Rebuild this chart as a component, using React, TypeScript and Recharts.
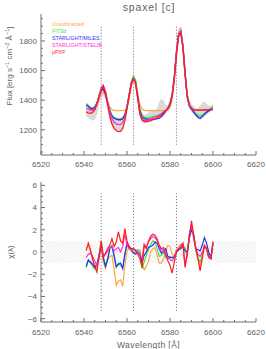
import React from "react";
import { ComposedChart, Line, Area, XAxis, YAxis, ReferenceLine, ReferenceArea } from "recharts";

// wavelength grid [Å]
const wavelength = [
  6541, 6542, 6543, 6544, 6545, 6546, 6547, 6548, 6549, 6550,
  6551, 6552, 6553, 6554, 6555, 6556, 6557, 6558, 6559, 6560,
  6561, 6562, 6563, 6564, 6565, 6566, 6567, 6568, 6569, 6570,
  6571, 6572, 6573, 6574, 6575, 6576, 6577, 6578, 6579, 6580,
  6581, 6582, 6583, 6584, 6585, 6586, 6587, 6588, 6589, 6590,
  6591, 6592, 6593, 6594, 6595, 6596, 6597, 6598, 6599, 6600,
];

// flux, top panel
const unsubtracted = [
  1325, 1328, 1332, 1338, 1350, 1375, 1415, 1448, 1455, 1430,
  1390, 1355, 1336, 1331, 1330, 1330, 1330, 1330, 1332, 1345,
  1410, 1490, 1540, 1520, 1440, 1370, 1340, 1331, 1330, 1330,
  1330, 1330, 1330, 1330, 1330, 1330, 1330, 1331, 1335, 1350,
  1410, 1540, 1725, 1855, 1882, 1780, 1600, 1440, 1370, 1345,
  1335, 1332, 1331, 1331, 1331, 1332, 1333, 1334, 1336, 1338,
];
const fit3d = [
  1375, 1365, 1350, 1345, 1355, 1385, 1430, 1475, 1485, 1450,
  1390, 1335, 1300, 1282, 1276, 1273, 1272, 1280, 1305, 1360,
  1440, 1525, 1560, 1535, 1440, 1340, 1300, 1285, 1280, 1282,
  1285, 1290, 1290, 1292, 1295, 1305, 1315, 1330, 1345, 1380,
  1440, 1560, 1730, 1850, 1870, 1770, 1590, 1430, 1370, 1350,
  1330, 1310, 1298, 1293, 1300, 1310, 1325, 1335, 1345, 1358,
];
const miles = [
  1368, 1358, 1345, 1340, 1350, 1380, 1425, 1465, 1475, 1440,
  1380, 1325, 1292, 1278, 1272, 1268, 1268, 1275, 1300, 1355,
  1435, 1515, 1545, 1520, 1425, 1325, 1285, 1275, 1272, 1272,
  1272, 1272, 1273, 1275, 1278, 1290, 1305, 1325, 1345, 1375,
  1435, 1555, 1725, 1845, 1865, 1760, 1575, 1420, 1360, 1340,
  1320, 1300, 1285, 1278, 1290, 1305, 1318, 1328, 1335, 1342,
];
const stelib = [
  1345, 1342, 1335, 1330, 1340, 1375, 1430, 1485, 1500, 1460,
  1390, 1320, 1275, 1252, 1240, 1235, 1236, 1250, 1285, 1350,
  1435, 1515, 1545, 1515, 1415, 1310, 1270, 1262, 1262, 1265,
  1272, 1280, 1288, 1295, 1302, 1310, 1320, 1332, 1345, 1370,
  1430, 1550, 1720, 1845, 1865, 1765, 1585, 1430, 1365, 1345,
  1335, 1333, 1333, 1333, 1333, 1334, 1335, 1336, 1338, 1340,
];
const ppxf = [
  1320, 1315, 1312, 1318, 1335, 1370, 1420, 1470, 1495, 1455,
  1370, 1290, 1240, 1210, 1195, 1188, 1190, 1210, 1260, 1340,
  1430, 1510, 1545, 1510, 1410, 1305, 1265, 1255, 1255, 1258,
  1262, 1268, 1275, 1283, 1292, 1302, 1315, 1330, 1345, 1370,
  1425, 1540, 1700, 1830, 1855, 1760, 1580, 1430, 1365, 1345,
  1335, 1333, 1333, 1333, 1333, 1334, 1335, 1336, 1338, 1340,
];
const errLow = [
  1290, 1280, 1270, 1262, 1270, 1300, 1360, 1420, 1440, 1400,
  1330, 1270, 1230, 1205, 1195, 1190, 1192, 1210, 1255, 1330,
  1420, 1495, 1525, 1500, 1400, 1300, 1255, 1245, 1245, 1250,
  1255, 1262, 1265, 1270, 1275, 1285, 1300, 1315, 1330, 1350,
  1410, 1520, 1690, 1820, 1845, 1740, 1560, 1410, 1340, 1320,
  1305, 1290, 1275, 1265, 1275, 1290, 1300, 1315, 1325, 1330,
];
const errHigh = [
  1385, 1375, 1360, 1355, 1360, 1390, 1440, 1500, 1515, 1470,
  1400, 1340, 1300, 1290, 1285, 1280, 1282, 1290, 1320, 1380,
  1460, 1540, 1575, 1550, 1450, 1350, 1310, 1300, 1305, 1315,
  1330, 1335, 1330, 1345, 1390, 1410, 1400, 1370, 1365, 1400,
  1460, 1575, 1750, 1880, 1905, 1800, 1620, 1460, 1400, 1375,
  1360, 1345, 1345, 1360, 1385, 1390, 1375, 1360, 1365, 1372,
];

// chi, bottom panel
const chiUnsub = [
  0.3, 0.6, 0.0, -0.8, -1.2, -1.5, -0.5, 0.6, -0.9, -1.5,
  -0.6, -0.4, -0.3, -1.5, -3.0, -2.6, -2.5, -3.1, -1.2, 0.0,
  0.5, 0.3, 0.1, 0.0, 0.1, 0.2, -1.0, -1.6, -1.3, -0.8,
  0.0, 0.3, 0.4, -0.3, -1.0, -1.0, -0.6, 0.0, 0.6, 0.5,
  -0.2, -0.4, 0.2, 0.5, 0.7, 0.6, 0.3, -0.5, 1.6, 2.3,
  1.4, 0.2, -0.6, -1.3, -0.4, 0.6, 0.4, -0.4, -0.6, 1.0,
];
const chiFit3d = [
  -1.4, -0.8, -1.0, -1.3, -1.5, -1.2, -0.3, 1.0, -0.4, -1.2,
  -0.6, 0.4, 0.6, -0.4, -1.4, -1.0, -1.2, -1.4, -0.3, 0.7,
  0.4, 0.1, -0.1, 0.0, 0.2, 0.0, -1.5, -0.9, -0.3, 0.2,
  0.7, 1.0, 0.9, 0.3, -0.4, -0.3, 0.0, -0.5, -0.6, -0.4,
  -0.5, -0.6, 0.0, 0.2, 0.4, 0.6, 0.4, -0.3, 1.5, 2.2,
  1.3, 0.1, -0.5, -0.9, -0.3, 0.4, 0.3, -0.4, -0.6, 0.3,
];
const chiMiles = [
  -1.3, -0.7, -0.9, -1.1, -1.4, -1.1, -0.3, 0.6, -0.6, -1.3,
  -0.7, 0.3, 0.5, -0.3, -1.3, -1.1, -1.0, -1.5, -0.2, 0.8,
  0.5, 0.2, -0.1, -0.2, 0.0, -0.2, -0.9, -0.3, 0.0, 0.4,
  0.5, 0.6, 0.9, 0.8, 0.3, -0.1, 0.1, 0.3, -0.4, -0.5,
  -0.5, -0.4, 0.0, 0.2, 0.3, 0.5, 0.1, 0.0, 1.2, 2.0,
  1.6, 0.3, 0.2, 0.1, 0.6, 1.3, 0.8, 0.0, -0.5, 0.8,
];
const chiStelib = [
  -0.5, -0.2, -0.1, -0.4, -0.8, -1.2, -0.6, 0.4, -0.4, -0.2,
  0.1, 0.4, 0.5, 0.1, 0.3, 0.4, 0.0, 0.5, 1.6, 0.6,
  0.3, 0.2, 0.3, 0.2, 0.0, -0.3, -0.6, 0.7, 0.4, 0.9,
  1.2, 1.4, 1.3, 1.0, 0.5, 0.2, 0.2, -0.3, -0.5, -0.7,
  -0.8, -0.5, 0.1, 0.3, 0.4, 0.7, -1.2, -0.1, 1.4, 2.5,
  1.3, 0.3, -0.2, -0.4, 0.0, 0.5, 0.3, -0.4, -0.6, 0.7,
];
const chiPpxf = [
  0.1, 0.8, 0.2, -0.6, -1.3, -1.8, -0.4, 1.0, -0.5, -0.1,
  0.3, 0.6, 1.2, 0.5, 0.9, 1.8, 1.0, 0.8, 2.1, 1.0,
  0.4, 0.3, 0.3, 0.1, -0.2, -0.6, -1.4, 0.6, 0.3, 1.0,
  1.4, 1.6, 1.5, 1.2, 0.6, 0.3, 0.4, -0.2, -0.8, -1.2,
  -1.9, -0.9, 0.0, 0.3, 0.5, 0.8, -1.4, -0.2, 1.5, 2.8,
  1.5, 0.4, -0.6, -1.7, -0.6, 0.6, 0.3, -0.5, -0.6, 0.9,
];

const xTicks = [
  6520, 6525, 6530, 6535, 6540, 6545, 6550, 6555, 6560, 6565, 6570,
  6575, 6580, 6585, 6590, 6595, 6600, 6605, 6610, 6615, 6620,
];
const fluxTicks = [
  1050, 1100, 1150, 1200, 1250, 1300, 1350, 1400, 1450, 1500,
  1550, 1600, 1650, 1700, 1750, 1800, 1850, 1900, 1950,
];
const chiTicks = [
  -6, -5.5, -5, -4.5, -4, -3.5, -3, -2.5, -2, -1.5, -1, -0.5, 0,
  0.5, 1, 1.5, 2, 2.5, 3, 3.5, 4, 4.5, 5, 5.5, 6,
];
const lineMarks = [6548, 6563, 6583];

const series = [
  { name: "Unsubtracted", flux: "unsub", chi: "cUnsub", color: "#ffa54a" },
  { name: "FIT3d", flux: "fit3d", chi: "cFit3d", color: "#3be63b" },
  { name: "STARLIGHT/MILES", flux: "miles", chi: "cMiles", color: "#2a2aff" },
  { name: "STARLIGHT/STELIB", flux: "stelib", chi: "cStelib", color: "#ff2ed0" },
  { name: "pPXF", flux: "ppxf", chi: "cPpxf", color: "#ff1e1e" },
];

const fluxData = wavelength.map((w, i) => ({
  wl: w,
  err: [errLow[i], errHigh[i]],
  unsub: unsubtracted[i],
  fit3d: fit3d[i],
  miles: miles[i],
  stelib: stelib[i],
  ppxf: ppxf[i],
}));

const chiData = wavelength.map((w, i) => ({
  wl: w,
  cUnsub: chiUnsub[i],
  cFit3d: chiFit3d[i],
  cMiles: chiMiles[i],
  cStelib: chiStelib[i],
  cPpxf: chiPpxf[i],
}));

const FONT = "'Liberation Sans', Arial, sans-serif";
const INK = "#626262";
const AXIS = "#6e6e6e";

const isMajor = (v: number, step: number) => Math.abs(v / step - Math.round(v / step)) < 1e-6;
const fmtNum = (v: number) => (v < 0 ? "\u2212" + Math.abs(v) : String(v));

// inward IDL-style ticks, long on majors, short on minors
function makeTick(side: string, step: number, showLabel: boolean, labelGap = 11.5) {
  return (props: any) => {
    const { x, y, payload } = props;
    const v = payload.value;
    const major = isMajor(v, step);
    const len = major ? 4 : 2;
    let line;
    if (side === "bottom") line = <line x1={x} y1={y} x2={x} y2={y - len} stroke={AXIS} />;
    else if (side === "top") line = <line x1={x} y1={y} x2={x} y2={y + len} stroke={AXIS} />;
    else if (side === "left") line = <line x1={x} y1={y} x2={x + len} y2={y} stroke={AXIS} />;
    else line = <line x1={x} y1={y} x2={x - len} y2={y} stroke={AXIS} />;
    let label = null;
    if (showLabel && major) {
      if (side === "bottom")
        label = (
          <text x={x} y={y + labelGap} textAnchor="middle" fontSize={8} fill={INK} fontFamily={FONT}>
            {fmtNum(v)}
          </text>
        );
      else
        label = (
          <text x={x - 4} y={y + 2.9} textAnchor="end" fontSize={8} fill={INK} fontFamily={FONT}>
            {fmtNum(v)}
          </text>
        );
    }
    return (
      <g>
        {line}
        {label}
      </g>
    );
  };
}

export default function App() {
  return (
    <div style={{ position: "absolute", left: 0, top: 0, width: 266, height: 349, background: "#fff" }}>
      <svg width={0} height={0} style={{ position: "absolute" }}>
        <defs>
          <pattern id="hatch" patternUnits="userSpaceOnUse" width={2.5} height={2.5} patternTransform="rotate(45)">
            <line x1={0} y1={0} x2={0} y2={2.5} stroke="#d2d2d2" strokeWidth={0.8} />
          </pattern>
        </defs>
      </svg>

      <div style={{ position: "absolute", left: 0, top: 0 }}>
        <ComposedChart width={266} height={170} data={fluxData} margin={{ top: 14, right: 10, bottom: 0, left: 0 }}>
          <XAxis
            dataKey="wl"
            type="number"
            domain={[6520, 6620]}
            ticks={xTicks}
            interval={0}
            allowDataOverflow
            height={15}
            tickSize={0}
            tickMargin={0}
            tickLine={false}
            stroke={AXIS}
            tick={makeTick("bottom", 20, true, 11.7)}
          />
          <XAxis
            xAxisId="top"
            orientation="top"
            dataKey="wl"
            type="number"
            domain={[6520, 6620]}
            ticks={xTicks}
            interval={0}
            allowDataOverflow
            height={0}
            tickSize={0}
            tickMargin={0}
            tickLine={false}
            stroke={AXIS}
            tick={makeTick("top", 20, false)}
          />
          <YAxis
            type="number"
            domain={[1030, 1982]}
            ticks={fluxTicks}
            interval={0}
            allowDataOverflow
            width={41}
            tickSize={0}
            tickMargin={0}
            tickLine={false}
            stroke={AXIS}
            tick={makeTick("left", 200, true)}
          />
          <YAxis
            yAxisId="right"
            orientation="right"
            type="number"
            domain={[1030, 1982]}
            ticks={fluxTicks}
            interval={0}
            allowDataOverflow
            width={0}
            tickSize={0}
            tickMargin={0}
            tickLine={false}
            stroke={AXIS}
            tick={makeTick("right", 200, false)}
          />
          <Area dataKey="err" type="linear" stroke="none" fill="#d9d9d9" fillOpacity={1} isAnimationActive={false} />
          {lineMarks.map((m) => (
            <ReferenceLine
              key={m}
              segment={[
                { x: m, y: 1100 },
                { x: m, y: 1905 },
              ]}
              stroke="#6a6a6a"
              strokeDasharray="1 2"
            />
          ))}
          {series.map((s) => (
            <Line
              key={s.flux}
              dataKey={s.flux}
              type="linear"
              stroke={s.color}
              strokeWidth={1.3}
              dot={false}
              isAnimationActive={false}
            />
          ))}
        </ComposedChart>
      </div>

      <div style={{ position: "absolute", left: 0, top: 170 }}>
        <ComposedChart width={266} height={179} data={chiData} margin={{ top: 12, right: 10, bottom: 0, left: 0 }}>
          <XAxis
            dataKey="wl"
            type="number"
            domain={[6520, 6620]}
            ticks={xTicks}
            interval={0}
            allowDataOverflow
            height={27}
            tickSize={0}
            tickMargin={0}
            tickLine={false}
            stroke={AXIS}
            tick={makeTick("bottom", 20, true, 13.2)}
          />
          <XAxis
            xAxisId="top"
            orientation="top"
            dataKey="wl"
            type="number"
            domain={[6520, 6620]}
            ticks={xTicks}
            interval={0}
            allowDataOverflow
            height={0}
            tickSize={0}
            tickMargin={0}
            tickLine={false}
            stroke={AXIS}
            tick={makeTick("top", 20, false)}
          />
          <YAxis
            type="number"
            domain={[-6.3, 6.3]}
            ticks={chiTicks}
            interval={0}
            allowDataOverflow
            width={41}
            tickSize={0}
            tickMargin={0}
            tickLine={false}
            stroke={AXIS}
            tick={makeTick("left", 2, true)}
          />
          <YAxis
            yAxisId="right"
            orientation="right"
            type="number"
            domain={[-6.3, 6.3]}
            ticks={chiTicks}
            interval={0}
            allowDataOverflow
            width={0}
            tickSize={0}
            tickMargin={0}
            tickLine={false}
            stroke={AXIS}
            tick={makeTick("right", 2, false)}
          />
          <ReferenceArea x1={6520} x2={6620} y1={-1} y2={1} fill="url(#hatch)" fillOpacity={1} stroke="none" />
          {lineMarks.map((m) => (
            <ReferenceLine
              key={m}
              segment={[
                { x: m, y: -5.3 },
                { x: m, y: 5.3 },
              ]}
              stroke="#6a6a6a"
              strokeDasharray="1 2"
            />
          ))}
          {series.map((s) => (
            <Line
              key={s.chi}
              dataKey={s.chi}
              type="linear"
              stroke={s.color}
              strokeWidth={1.2}
              dot={false}
              isAnimationActive={false}
            />
          ))}
        </ComposedChart>
      </div>

      <svg width={266} height={349} style={{ position: "absolute", left: 0, top: 0, pointerEvents: "none" }} fontFamily={FONT}>
        <text x={149} y={10.5} textAnchor="middle" fontSize={10.5} fill={INK} letterSpacing={0.8}>
          spaxel [c]
        </text>
        {series.map((s, i) => (
          <text key={s.name} x={52} y={26 + i * 7.1} fontSize={5.4} fill={s.color}>
            {s.name}
          </text>
        ))}
        <text transform="translate(11.5,66) rotate(-90)" textAnchor="middle" fontSize={8} fill={INK}>
          Flux [erg s<tspan dy={-3} fontSize={5.5}>{"\u22121"}</tspan>
          <tspan dy={3}> cm</tspan>
          <tspan dy={-3} fontSize={5.5}>{"\u22122"}</tspan>
          <tspan dy={3}> {"\u00c5"}</tspan>
          <tspan dy={-3} fontSize={5.5}>{"\u22121"}</tspan>
          <tspan dy={3}>]</tspan>
        </text>
        <text transform="translate(12.5,252) rotate(-90)" textAnchor="middle" fontSize={8} fill={INK}>
          {"\u03c7(\u03bb)"}
        </text>
        <text x={148.5} y={347.5} textAnchor="middle" fontSize={8.5} fill={INK} letterSpacing={0.4}>
          Wavelength [{"\u00c5"}]
        </text>
      </svg>
    </div>
  );
}
